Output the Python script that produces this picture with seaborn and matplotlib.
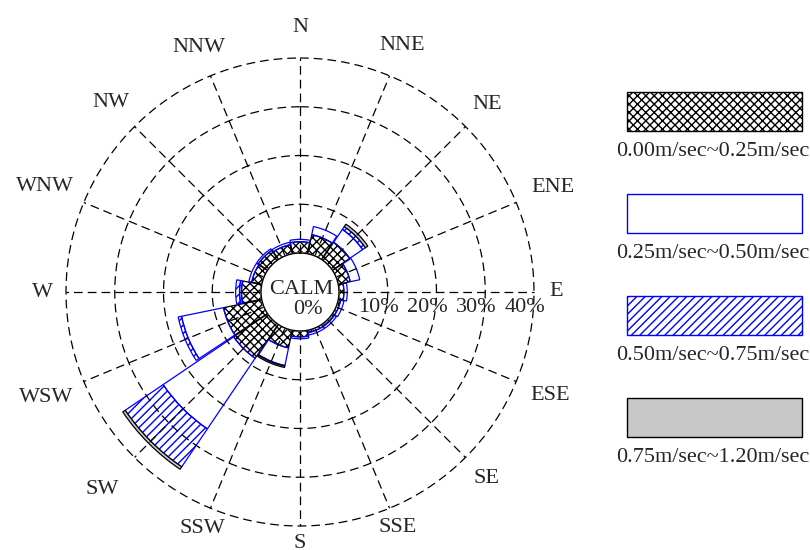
import seaborn as sns
import matplotlib.pyplot as plt
import numpy as np
from matplotlib.patches import Rectangle

sns.set_style('white')
plt.rcParams['font.family'] = ['Liberation Serif', 'DejaVu Serif']

directions = ['N', 'NNE', 'NE', 'ENE', 'E', 'ESE', 'SE', 'SSE',
              'S', 'SSW', 'SW', 'WSW', 'W', 'WNW', 'NW', 'NNW']
speed_labels = ['0.00m/sec~0.25m/sec', '0.25m/sec~0.50m/sec',
                '0.50m/sec~0.75m/sec', '0.75m/sec~1.20m/sec']

# frequency (%) per direction for each speed class
s1 = [2.3, 4.0, 4.3, 2.5, 1.0, 0.5, 0.5, 0.5, 1.2, 3.7, 8.4, 8.0, 4.0, 2.1, 2.3, 1.9]
s2 = [0.5, 1.7, 3.2, 2.0, 0.7, 0.7, 0.5, 0.5, 0.4, 3.7, 17.5, 8.8, 0.4, 0.6, 0.4, 0.5]
s3 = [0.0, 0.0, 0.7, 0.0, 0.0, 0.0, 0.0, 0.0, 0.0, 0.1, 9.4, 0.7, 0.8, 0.0, 0.0, 0.0]
s4 = [0.0, 0.0, 0.6, 0.0, 0.0, 0.0, 0.0, 0.0, 0.0, 0.3, 0.6, 0.0, 0.0, 0.0, 0.0, 0.0]
calm = 0
rings = [10, 20, 30, 40]

styles = [dict(facecolor='none', edgecolor='black', hatch='xxxx'),
          dict(facecolor='none', edgecolor='blue', hatch=None),
          dict(facecolor='none', edgecolor='blue', hatch='////'),
          dict(facecolor='#c8c8c8', edgecolor='black', hatch=None)]

fig = plt.figure(figsize=(8.1, 5.5), dpi=100)
ax = fig.add_axes([66 / 810, 24 / 550, 468 / 810, 468 / 550], projection='polar')
ax.set_theta_zero_location('N')
ax.set_theta_direction(-1)
ax.set_rorigin(-8)
ax.set_ylim(0, 40)
ax.grid(False)
ax.set_xticks([])
ax.set_yticks([])
ax.spines['polar'].set_visible(False)
ax.set_facecolor('none')

theta = np.deg2rad(np.arange(16) * 22.5)
width = np.deg2rad(22.5) * 0.97

bottom = np.zeros(16)
for seg, st in zip([s1, s2, s3, s4], styles):
    seg = np.array(seg)
    mask = seg > 0
    ax.bar(theta[mask], seg[mask], width=width, bottom=bottom[mask],
           linewidth=0.9, zorder=2, **st)
    bottom += seg

# dashed grid
dash = (0, (7, 4))
circ = np.linspace(0, 2 * np.pi, 400)
for r in rings:
    ax.plot(circ, np.full_like(circ, r), color='black', ls=dash, lw=0.9,
            zorder=3, clip_on=False)
for t in theta:
    ax.plot([t, t], [0, 40], color='black', ls=dash, lw=0.9, zorder=3, clip_on=False)

# calm circle
ax.fill(circ, np.zeros_like(circ), color='white', zorder=4, clip_on=False)
ax.plot(circ, np.zeros_like(circ), color='black', lw=1.0, zorder=5, clip_on=False)
ax.annotate('CALM', xy=(0, 0), xycoords='data', xytext=(1, -37),
            textcoords='offset pixels', ha='center', va='center', fontsize=16,
            zorder=6, annotation_clip=False)
ax.annotate(f'{calm}%', xy=(0, 0), xycoords='data', xytext=(8, -56),
            textcoords='offset pixels', ha='center', va='center', fontsize=16,
            zorder=6, annotation_clip=False)

for r in rings:
    ax.annotate(f'{r}%', xy=(np.pi / 2, r), xycoords='data', xytext=(-9, -15),
                textcoords='offset pixels', ha='center', va='center', fontsize=16,
                zorder=6, annotation_clip=False)

# compass labels, distance from centre in pixels
label_dist = [264, 267, 265, 274, 256, 271, 264, 255, 252, 256, 280, 275, 258, 276, 268, 265]
for t, name, d in zip(theta, directions, label_dist):
    off = d - 234
    ax.annotate(name, xy=(t, 40), xycoords='data',
                xytext=(off * np.sin(t), off * np.cos(t)), textcoords='offset pixels',
                ha='center', va='center', fontsize=16, annotation_clip=False)

# legend drawn below each key patch
lax = fig.add_axes([0, 0, 1, 1])
lax.set_xlim(0, 810)
lax.set_ylim(550, 0)
lax.axis('off')
for i, (lab, st) in enumerate(zip(speed_labels, styles)):
    y0 = 92 + i * 102
    lax.add_patch(Rectangle((627, y0), 175, 39, linewidth=1.0, **st))
    lax.text(713, y0 + 59, lab, ha='center', va='center', fontsize=16)

fig.savefig('out.png', dpi=100)
